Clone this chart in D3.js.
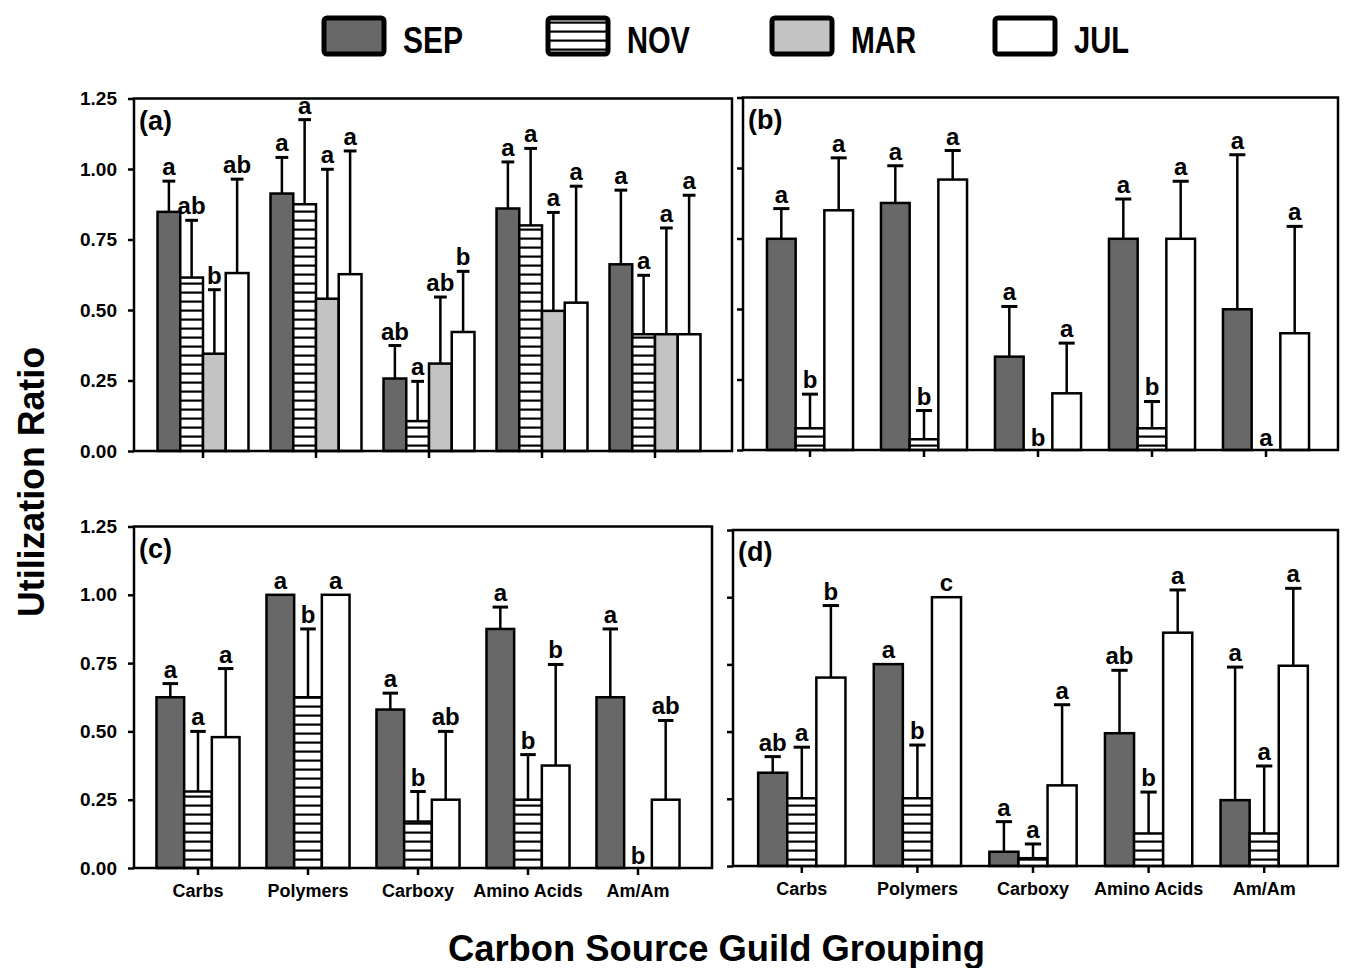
<!DOCTYPE html>
<html>
<head>
<meta charset="utf-8">
<script src="https://cdn.jsdelivr.net/npm/d3@7"></script>
<style>
  body { margin: 0; background: #fff; }
  svg { display: block; font-family: "Liberation Sans", Arial, sans-serif; }
  .tick text { font-weight: bold; fill: #000; }
</style>
</head>
<body>
<div id="chart"></div>
<script>
// categories, series and tick values
var categories = ["Carbs", "Polymers", "Carboxy", "Amino Acids", "Am/Am"];
var months = ["SEP", "NOV", "MAR", "JUL"];
var yTicks = [0, 0.25, 0.5, 0.75, 1.0, 1.25];

// panel (a): rows SEP, NOV, MAR, JUL
var aMean = [
  [0.848, 0.913, 0.257, 0.860, 0.662],
  [0.615, 0.875, 0.106, 0.800, 0.414],
  [0.345, 0.540, 0.310, 0.497, 0.414],
  [0.631, 0.627, 0.422, 0.526, 0.414]
];
var aErr = [
  [0.957, 1.041, 0.374, 1.025, 0.925],
  [0.818, 1.175, 0.247, 1.073, 0.623],
  [0.572, 0.999, 0.546, 0.846, 0.791],
  [0.964, 1.064, 0.637, 0.939, 0.907]
];
var aLetters = [
  ["a", "a", "ab", "a", "a"],
  ["ab", "a", "a", "a", "a"],
  ["b", "a", "ab", "a", "a"],
  ["ab", "a", "b", "a", "a"]
];

// panel (b): rows SEP, NOV, JUL
var bMean = [
  [0.749, 0.876, 0.331, 0.749, 0.499],
  [0.077, 0.038, 0, 0.077, 0],
  [0.850, 0.959, 0.201, 0.749, 0.414]
];
var bErr = [
  [0.856, 1.008, 0.509, 0.890, 1.047],
  [0.198, 0.140, null, 0.172, null],
  [1.036, 1.062, 0.379, 0.953, 0.793]
];
var bLetters = [
  ["a", "a", "a", "a", "a"],
  ["b", "b", "b", "b", "a"],
  ["a", "a", "a", "a", "a"]
];

// panel (c): rows SEP, NOV, JUL
var cMean = [
  [0.625, 1.0, 0.580, 0.875, 0.625],
  [0.280, 0.625, 0.170, 0.250, 0],
  [0.479, 1.0, 0.250, 0.375, 0.250]
];
var cErr = [
  [0.675, null, 0.640, 0.955, 0.875],
  [0.500, 0.875, 0.280, 0.415, null],
  [0.730, null, 0.500, 0.745, 0.540]
];
var cLetters = [
  ["a", "a", "a", "a", "a"],
  ["a", "b", "b", "b", "b"],
  ["a", "a", "ab", "b", "ab"]
];

// panel (d): rows SEP, NOV, JUL
var dMean = [
  [0.347, 0.751, 0.053, 0.494, 0.245],
  [0.252, 0.252, 0.029, 0.121, 0.121],
  [0.701, 1.0, 0.300, 0.868, 0.745]
];
var dErr = [
  [0.407, null, 0.165, 0.728, 0.740],
  [0.442, 0.450, 0.082, 0.275, 0.372],
  [0.969, null, 0.600, 1.027, 1.033]
];
var dLetters = [
  ["ab", "a", "a", "ab", "a"],
  ["a", "b", "a", "b", "a"],
  ["b", "c", "a", "a", "a"]
];

var fills = { SEP: "#686868", NOV: "url(#hatch)", MAR: "#c3c3c3", JUL: "#ffffff" };

var svgWidth = 1350, svgHeight = 968;

var svg = d3.select("#chart")
  .append("svg")
  .attr("width", svgWidth)
  .attr("height", svgHeight);

// horizontal hatch for NOV
var defs = svg.append("defs");
var pat = defs.append("pattern")
  .attr("id", "hatch")
  .attr("patternUnits", "userSpaceOnUse")
  .attr("width", 10)
  .attr("height", 9);
pat.append("rect").attr("width", 10).attr("height", 9).attr("fill", "#fff");
pat.append("rect").attr("y", 3.5).attr("width", 10).attr("height", 2.2).attr("fill", "#000");

var panels = [
  { name: "(a)", mean: aMean, err: aErr, letters: aLetters, series: ["SEP", "NOV", "MAR", "JUL"],
    left: 134, right: 732, y0: 451, yTop: 98.5, band: [146.5, 711.5], pad: 0.195, yLabels: true, xLabels: false },
  { name: "(b)", mean: bMean, err: bErr, letters: bLetters, series: ["SEP", "NOV", "JUL"],
    left: 743, right: 1338, y0: 450, yTop: 97.5, band: [753, 1323], pad: 0.245, yLabels: false, xLabels: false },
  { name: "(c)", mean: cMean, err: cErr, letters: cLetters, series: ["SEP", "NOV", "JUL"],
    left: 134, right: 712, y0: 868, yTop: 526.5, band: [143, 693], pad: 0.245, yLabels: true, xLabels: true },
  { name: "(d)", mean: dMean, err: dErr, letters: dLetters, series: ["SEP", "NOV", "JUL"],
    left: 733, right: 1338, y0: 866, yTop: 530, band: [744, 1322], pad: 0.245, yLabels: false, xLabels: true }
];

panels.forEach(function(p) {
  var g = svg.append("g");

  var y = d3.scaleLinear().domain([0, 1.25]).range([p.y0, p.yTop]);
  var x = d3.scaleBand().domain(categories).range(p.band).padding(0);
  var groupW = x.bandwidth() * (1 - p.pad);
  var xs = d3.scaleBand().domain(p.series).range([0, groupW]);
  var off = x.bandwidth() * p.pad / 2;

  // flatten the rows into bar records
  var bars = [];
  p.series.forEach(function(s, si) {
    categories.forEach(function(c, ci) {
      bars.push({ s: s, c: c, v: p.mean[si][ci], e: p.err[si][ci], l: p.letters[si][ci] });
    });
  });

  var bx = function(d) { return x(d.c) + off + xs(d.s); };
  var bw = xs.bandwidth();

  // bars
  g.selectAll("rect.bar")
    .data(bars.filter(function(d) { return d.v > 0; }))
    .enter()
    .append("rect")
    .attr("class", "bar")
    .attr("x", bx)
    .attr("y", function(d) { return y(d.v); })
    .attr("width", bw)
    .attr("height", function(d) { return y(0) - y(d.v); })
    .attr("fill", function(d) { return fills[d.s]; })
    .attr("stroke", "#000")
    .attr("stroke-width", 2.5);

  // error bars (upper only)
  var withErr = bars.filter(function(d) { return d.e != null; });
  g.selectAll("line.err")
    .data(withErr)
    .enter()
    .append("line")
    .attr("x1", function(d) { return bx(d) + bw / 2; })
    .attr("x2", function(d) { return bx(d) + bw / 2; })
    .attr("y1", function(d) { return y(d.v); })
    .attr("y2", function(d) { return y(d.e); })
    .attr("stroke", "#000")
    .attr("stroke-width", 2.5);
  g.selectAll("line.cap")
    .data(withErr)
    .enter()
    .append("line")
    .attr("x1", function(d) { return bx(d) + bw / 2 - bw * 0.28; })
    .attr("x2", function(d) { return bx(d) + bw / 2 + bw * 0.28; })
    .attr("y1", function(d) { return y(d.e); })
    .attr("y2", function(d) { return y(d.e); })
    .attr("stroke", "#000")
    .attr("stroke-width", 3);

  // significance letters
  g.selectAll("text.sig")
    .data(bars)
    .enter()
    .append("text")
    .attr("x", function(d) { return bx(d) + bw / 2; })
    .attr("y", function(d) {
      if (d.e != null) return y(d.e) - 6;
      if (d.v > 0) return y(d.v) - 6;
      return y(0) - 4;
    })
    .attr("text-anchor", "middle")
    .attr("font-size", 24)
    .attr("font-weight", "bold")
    .text(function(d) { return d.l; });

  // axes
  var yAxis = d3.axisLeft(y).tickValues(yTicks).tickSize(6).tickPadding(11)
    .tickFormat(p.yLabels ? d3.format(".2f") : function() { return ""; });
  var ya = g.append("g")
    .attr("transform", "translate(" + p.left + ",0)")
    .call(yAxis);
  ya.select(".domain").remove();
  ya.selectAll("line").attr("stroke-width", 2.5);
  ya.selectAll("text").attr("font-size", 19).attr("textLength", 37).attr("lengthAdjust", "spacingAndGlyphs");

  var xAxis = d3.axisBottom(x).tickSize(7).tickPadding(9)
    .tickFormat(p.xLabels ? function(d) { return d; } : function() { return ""; });
  var xa = g.append("g")
    .attr("transform", "translate(0," + y(0) + ")")
    .call(xAxis);
  xa.select(".domain").remove();
  xa.selectAll("line").attr("stroke-width", 2.5);
  xa.selectAll("text").attr("font-size", 18);

  // frame
  g.append("rect")
    .attr("x", p.left)
    .attr("y", y(1.25))
    .attr("width", p.right - p.left)
    .attr("height", y(0) - y(1.25))
    .attr("fill", "none")
    .attr("stroke", "#000")
    .attr("stroke-width", 2.5);

  g.append("text")
    .attr("x", p.left + 5)
    .attr("y", y(1.25) + 31)
    .attr("font-size", 27)
    .attr("font-weight", "bold")
    .text(p.name);
});

// legend
var legendX = [324, 548, 772, 995];
var legendW = [60, 63, 65, 55];
var leg = svg.append("g").selectAll("g")
  .data(months)
  .enter()
  .append("g")
  .attr("transform", function(d, i) { return "translate(" + legendX[i] + ",0)"; });
leg.append("rect")
  .attr("x", 0).attr("y", 18)
  .attr("width", 60).attr("height", 36)
  .attr("rx", 3)
  .attr("fill", function(d) { return fills[d]; })
  .attr("stroke", "#000")
  .attr("stroke-width", 5);
leg.append("text")
  .attr("x", 79)
  .attr("y", 53)
  .attr("font-size", 36)
  .attr("font-weight", "bold")
  .attr("textLength", function(d, i) { return legendW[i]; })
  .attr("lengthAdjust", "spacingAndGlyphs")
  .text(function(d) { return d; });

// axis titles
svg.append("text")
  .attr("transform", "translate(44,482) rotate(-90)")
  .attr("text-anchor", "middle")
  .attr("font-size", 36)
  .attr("font-weight", "bold")
  .attr("textLength", 270)
  .attr("lengthAdjust", "spacingAndGlyphs")
  .text("Utilization Ratio");

svg.append("text")
  .attr("x", 448)
  .attr("y", 961)
  .attr("font-size", 36)
  .attr("font-weight", "bold")
  .attr("textLength", 537)
  .attr("lengthAdjust", "spacingAndGlyphs")
  .text("Carbon Source Guild Grouping");
</script>
</body>
</html>
